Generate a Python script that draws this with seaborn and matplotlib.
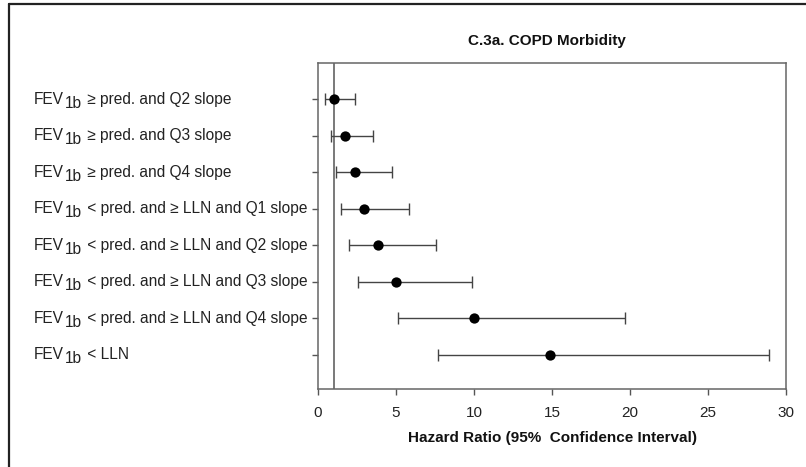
import matplotlib
matplotlib.use("Agg")
import matplotlib.pyplot as plt
import matplotlib.transforms as mtransforms
import seaborn as sns
import pandas as pd
import numpy as np
from matplotlib.lines import Line2D

sns.set_style("white")
plt.rcParams['font.family'] = ['Liberation Sans', 'DejaVu Sans']

title = "C.3a. COPD Morbidity"
xlabel = "Hazard Ratio (95%  Confidence Interval)"
label_main = "FEV"
label_sub = "1b"
categories = [
    "≥ pred. and Q2 slope",
    "≥ pred. and Q3 slope",
    "≥ pred. and Q4 slope",
    "< pred. and ≥ LLN and Q1 slope",
    "< pred. and ≥ LLN and Q2 slope",
    "< pred. and ≥ LLN and Q3 slope",
    "< pred. and ≥ LLN and Q4 slope",
    "< LLN",
]
hr = [1.03, 1.71, 2.39, 2.93, 3.83, 5.00, 10.03, 14.90]
ci_low = [0.45, 0.81, 1.13, 1.48, 1.97, 2.57, 5.11, 7.68]
ci_high = [2.35, 3.55, 4.77, 5.84, 7.55, 9.84, 19.65, 28.91]
ref_line = 1.0
xticks = [0, 5, 10, 15, 20, 25, 30]

df = pd.DataFrame({"cat": categories, "hr": hr, "lo": ci_low, "hi": ci_high})
df["pos"] = np.arange(len(df))

fig = plt.figure(figsize=(8.06, 4.67), dpi=100)
ax = fig.add_axes([318 / 806, 1 - 389 / 467, (786 - 318) / 806, (389 - 63) / 467])

ax.axvline(ref_line, color="#555555", lw=1.1, zorder=1)
ax.errorbar(df["hr"], df["pos"],
            xerr=[df["hr"] - df["lo"], df["hi"] - df["hr"]],
            fmt="none", ecolor="#444444", elinewidth=1.0, capsize=4.5,
            capthick=1.0, zorder=2)
sns.scatterplot(data=df, x="hr", y="pos", ax=ax, color="black", s=55,
                edgecolor="black", linewidth=0, zorder=3, legend=False)

ax.set_xlim(0, 30)
ax.set_ylim(7.94, -1.0)
ax.set_xticks(xticks)
ax.set_xticklabels([str(t) for t in xticks])
ax.set_yticks(df["pos"])
ax.set_yticklabels([""] * len(df))
ax.set_xlabel(xlabel, fontsize=11, fontweight="bold", color="#111111", labelpad=8)
ax.set_ylabel("")
ax.set_title(title, fontsize=11, fontweight="bold", color="#111111", pad=13,
             x=0.49)

for sp in ax.spines.values():
    sp.set_color("#666666")
    sp.set_linewidth(1.1)
    sp.set_visible(True)
ax.tick_params(axis="both", which="major", direction="out", length=4,
               width=1.0, color="#555555", labelsize=11, labelcolor="#222222",
               left=True, bottom=True)
ax.tick_params(axis="x", pad=8)

# category labels: "FEV" + full-size lowered "1b" + rest, left aligned at x ~ 34 px
renderer = fig.canvas.get_renderer()
blend = mtransforms.blended_transform_factory(fig.transFigure, ax.transData)
x0 = 34 / 806
fs = 11.2
col = "#222222"
for _, row in df.iterrows():
    base = blend + mtransforms.ScaledTranslation(0, -4.5 / 100, fig.dpi_scale_trans)
    t1 = ax.text(x0, row["pos"], label_main, transform=base, fontsize=fs,
                 va="baseline", ha="left", color=col, clip_on=False)
    w1 = t1.get_window_extent(renderer).width
    t2 = ax.text(x0, row["pos"], label_sub, fontsize=fs, va="baseline", ha="left",
                 color=col, clip_on=False,
                 transform=blend + mtransforms.ScaledTranslation(
                     (w1 + 1) / 100, -8.5 / 100, fig.dpi_scale_trans))
    w2 = t2.get_window_extent(renderer).width
    ax.text(x0, row["pos"], " " + row["cat"], fontsize=fs, va="baseline", ha="left",
            color=col, clip_on=False,
            transform=blend + mtransforms.ScaledTranslation(
                (w1 + w2 + 1.5) / 100, -4.5 / 100, fig.dpi_scale_trans))

# figure border (left and top)
bx = 8.5 / 806
by = 1 - 3.5 / 467
fig.add_artist(Line2D([bx, bx], [0, by], transform=fig.transFigure,
                      color="#222222", lw=1.6))
fig.add_artist(Line2D([bx, 1], [by, by], transform=fig.transFigure,
                      color="#222222", lw=1.6))

fig.savefig("out.png", dpi=100)
